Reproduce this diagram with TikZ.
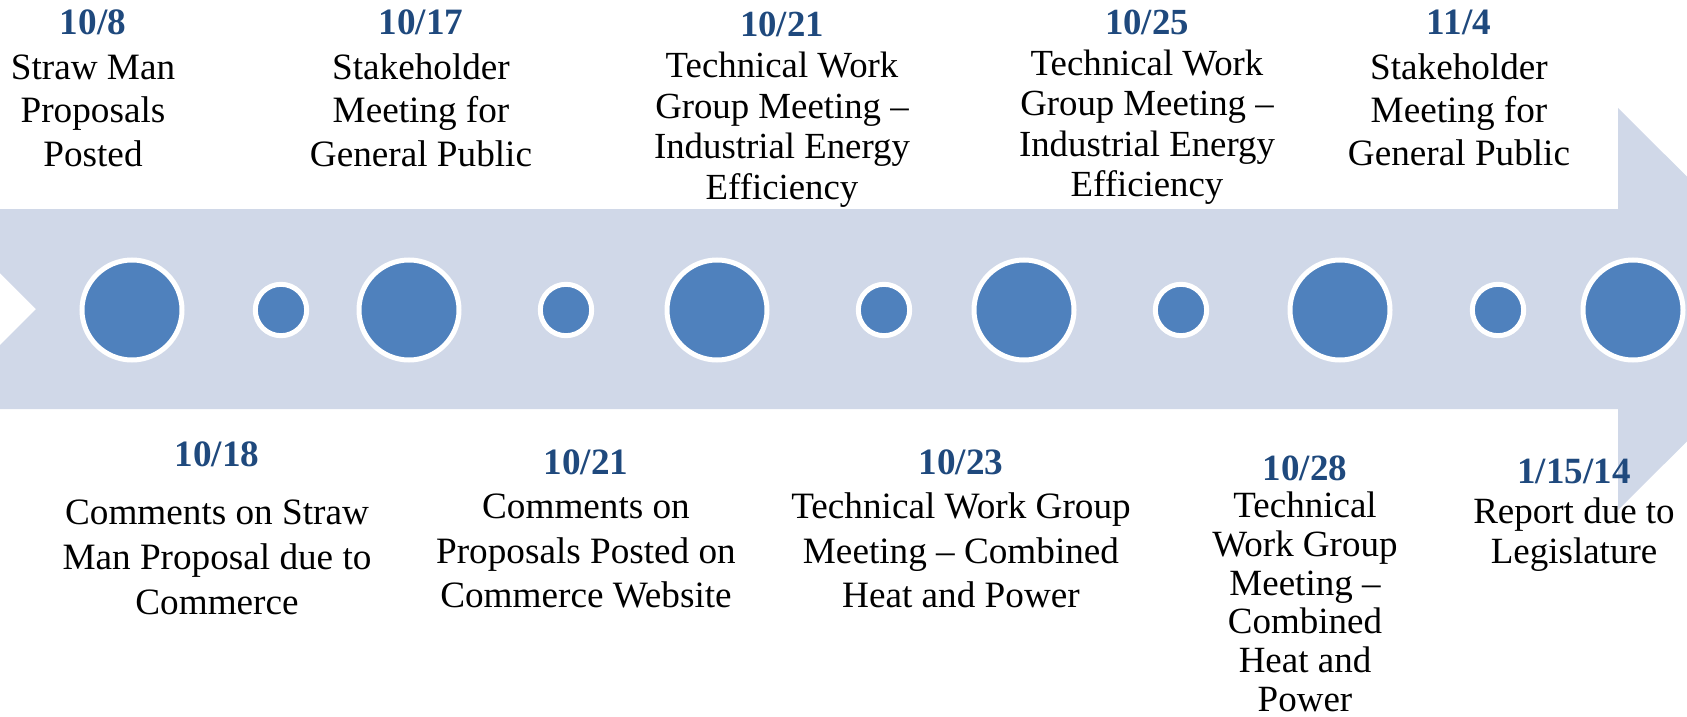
\documentclass[tikz,border=0pt]{standalone}
\usepackage{fontspec}
\setmainfont{Liberation Serif}
\usepackage{tikz}
\usetikzlibrary{shapes}
\definecolor{bandblue}{HTML}{D0D8E8}
\definecolor{dotblue}{HTML}{4F81BD}
\definecolor{dateblue}{HTML}{1F497D}
\tikzstyle{bigdot} = [circle, fill=dotblue, draw=white, line width=2.5pt, minimum size=50pt, inner sep=0pt]
\tikzstyle{smalldot} = [circle, fill=dotblue, draw=white, line width=2.5pt, minimum size=25.7pt, inner sep=0pt]
\tikzstyle{event} = [anchor=north, align=center, inner sep=0pt]
\tikzstyle{bigtext} = [event, font=\fontsize{18.6}{21.65}\selectfont]
\tikzstyle{smalltext} = [event, font=\fontsize{18.4}{20.3}\selectfont]
\newcommand{\eventdate}[1]{\textcolor{dateblue}{\textbf{#1}}}

\begin{document}
\begin{tikzpicture}[x=0.5pt, y=-0.5pt]
      \useasboundingbox (0,0) rectangle (1687,717);
      \clip (0,0) rectangle (1687,717);

      % band with notch and head
      \fill[bandblue] (0,209) -- (1618,209) -- (1618,108) -- (1820,309) -- (1618,510)
            -- (1618,409) -- (0,409) -- (0,345) -- (36,309) -- (0,273) -- cycle;

      \node[bigdot] (big1) at (132,310) {};
      \node[bigdot] (big2) at (409,310) {};
      \node[bigdot] (big3) at (717,310) {};
      \node[bigdot] (big4) at (1024,310) {};
      \node[bigdot] (big5) at (1340,310) {};
      \node[bigdot] (big6) at (1633,310) {};
      \node[smalldot] (small1) at (281,310) {};
      \node[smalldot] (small2) at (566,310) {};
      \node[smalldot] (small3) at (884,310) {};
      \node[smalldot] (small4) at (1181,310) {};
      \node[smalldot] (small5) at (1498,310) {};

      % above the band
      \node[bigtext] (top1) at (93,9.3) {\eventdate{10/8}\\[0.85pt]Straw Man\\Proposals\\Posted};
      \node[bigtext] (top2) at (421,9.3) {\eventdate{10/17}\\[0.85pt]Stakeholder\\Meeting for\\General Public};
      \node[smalltext] (top3) at (782,12) {\eventdate{10/21}\\Technical Work\\Group Meeting --\\Industrial Energy\\Efficiency};
      \node[smalltext] (top4) at (1147,9.7) {\eventdate{10/25}\\Technical Work\\Group Meeting --\\Industrial Energy\\Efficiency};
      \node[bigtext] (top5) at (1459,9.3) {\eventdate{11/4}\\[0.85pt]Stakeholder\\Meeting for\\General Public};

      % below the band
      \node[bigtext, font=\fontsize{18.6}{22.5}\selectfont] (bot1) at (217,441.3) {\eventdate{10/18}\\[6.5pt]Comments on Straw\\Man Proposal due to\\Commerce};
      \node[bigtext, font=\fontsize{18.6}{22.2}\selectfont] (bot2) at (586,449.3) {\eventdate{10/21}\\Comments on\\Proposals Posted on\\Commerce Website};
      \node[bigtext, font=\fontsize{18.6}{22.2}\selectfont] (bot3) at (961,449.3) {\eventdate{10/23}\\Technical Work Group\\Meeting -- Combined\\Heat and Power};
      \node[smalltext, font=\fontsize{18.5}{19.4}\selectfont] (bot4) at (1305,455.4) {\eventdate{10/28}\\[-0.9pt]Technical\\Work Group\\Meeting --\\Combined\\Heat and\\Power};
      \node[bigtext, font=\fontsize{18.5}{20}\selectfont] (bot5) at (1574,458.4) {\eventdate{1/15/14}\\Report due to\\Legislature};
\end{tikzpicture}
\end{document}
